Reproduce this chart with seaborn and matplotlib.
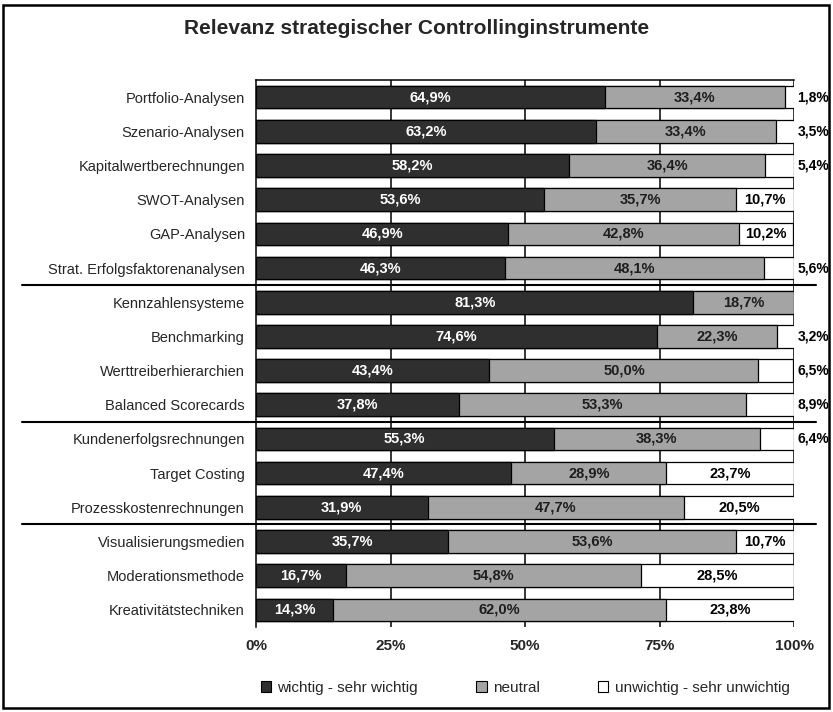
import pandas as pd
import matplotlib.pyplot as plt
import seaborn as sns
from matplotlib.patches import Patch, Rectangle
from matplotlib.transforms import blended_transform_factory

# ------------------------------
# DATA
# ------------------------------
instrumente = [
    "Portfolio-Analysen", "Szenario-Analysen", "Kapitalwertberechnungen",
    "SWOT-Analysen", "GAP-Analysen", "Strat. Erfolgsfaktorenanalysen",
    "Kennzahlensysteme", "Benchmarking", "Werttreiberhierarchien",
    "Balanced Scorecards", "Kundenerfolgsrechnungen", "Target Costing",
    "Prozesskostenrechnungen", "Visualisierungsmedien", "Moderationsmethode",
    "Kreativitätstechniken",
]
wichtig = [64.9, 63.2, 58.2, 53.6, 46.9, 46.3, 81.3, 74.6, 43.4, 37.8,
           55.3, 47.4, 31.9, 35.7, 16.7, 14.3]
neutral = [33.4, 33.4, 36.4, 35.7, 42.8, 48.1, 18.7, 22.3, 50.0, 53.3,
           38.3, 28.9, 47.7, 53.6, 54.8, 62.0]
unwichtig = [1.8, 3.5, 5.4, 10.7, 10.2, 5.6, 0.0, 3.2, 6.5, 8.9,
             6.4, 23.7, 20.5, 10.7, 28.5, 23.8]
gruppen_grenzen = [5.5, 9.5, 12.5]
x_ticks = [0, 25, 50, 75, 100]
x_labels = ["0%", "25%", "50%", "75%", "100%"]
legende = ["wichtig - sehr wichtig", "neutral", "unwichtig - sehr unwichtig"]

DUNKEL = "#2f2f2f"
GRAU = "#a4a4a4"

sns.set_theme(style="white")
plt.rcParams["font.family"] = ["Liberation Sans", "DejaVu Sans"]

df = pd.DataFrame({"Instrument": instrumente, "wichtig": wichtig,
                   "neutral": neutral, "unwichtig": unwichtig})
df["bis_neutral"] = df["wichtig"] + df["neutral"]
df["gesamt"] = df["bis_neutral"] + df["unwichtig"]

# ------------------------------
# PLOT
# ------------------------------
fig = plt.figure(figsize=(8.33, 7.12), dpi=100)
ax = fig.add_axes([256 / 833, 1 - 627 / 712, 538 / 833, 547 / 712])

for v in x_ticks[1:]:
    ax.axvline(v, color="black", lw=1.1, zorder=0)

for spalte, farbe in [("gesamt", "white"), ("bis_neutral", GRAU), ("wichtig", DUNKEL)]:
    sns.barplot(data=df, x=spalte, y="Instrument", order=instrumente, orient="h",
                color=farbe, edgecolor="black", linewidth=0.9, width=0.66,
                saturation=1, errorbar=None, ax=ax, zorder=2)

def fmt(v):
    return f"{v:.1f}%".replace(".", ",")

for i, row in df.iterrows():
    ax.text(row["wichtig"] / 2, i, fmt(row["wichtig"]), ha="center", va="center",
            color="white", fontsize=10.5, fontweight="bold", zorder=5)
    ax.text(row["wichtig"] + row["neutral"] / 2, i, fmt(row["neutral"]), ha="center",
            va="center", color="#1e1e1e", fontsize=10.5, fontweight="bold", zorder=5)
    u = row["unwichtig"]
    if u >= 10:
        ax.text(row["bis_neutral"] + u / 2, i, fmt(u), ha="center", va="center",
                color="black", fontsize=10.5, fontweight="bold", zorder=5)
    elif u > 0:
        # small shares sit right of the bar
        ax.text(100.6, i, fmt(u), ha="left", va="center", color="black",
                fontsize=10, fontweight="bold", zorder=5, clip_on=False)

# group separators
trans = blended_transform_factory(ax.transAxes, ax.transData)
for y in gruppen_grenzen:
    ax.plot([-0.435, 1.04], [y, y], color="black", lw=1.5, transform=trans,
            clip_on=False, zorder=6)

ax.set_xlim(0, 100)
ax.set_ylim(len(instrumente) - 0.5, -0.5)
ax.set_xticks(x_ticks)
ax.set_xticklabels(x_labels, fontsize=11, fontweight="bold")
ax.tick_params(axis="x", length=0, pad=9)
ax.tick_params(axis="y", which="major", length=0, pad=8, labelsize=10.5)
ax.set_yticks([k - 0.5 for k in range(len(instrumente) + 1)], minor=True)
ax.tick_params(axis="y", which="minor", length=4, width=1, color="black", direction="out")
ax.set_xlabel("")
ax.set_ylabel("")

for side in ["left", "top"]:
    ax.spines[side].set_color("black")
    ax.spines[side].set_linewidth(1.1)
ax.spines["right"].set_visible(False)
ax.spines["bottom"].set_visible(False)

fig.text(0.5, 1 - 28 / 712, "Relevanz strategischer Controllinginstrumente",
         ha="center", va="center", fontsize=15, fontweight="bold")

handles = [Patch(facecolor=DUNKEL, edgecolor="black", lw=0.8),
           Patch(facecolor=GRAU, edgecolor="black", lw=0.8),
           Patch(facecolor="white", edgecolor="black", lw=0.8)]
fig.legend(handles, legende, loc="center", bbox_to_anchor=(525 / 833, 1 - 688 / 712),
           ncol=3, frameon=False, fontsize=11, handlelength=0.7, handleheight=0.7,
           handletextpad=0.4, columnspacing=3.8)

fig.patches.append(Rectangle((3 / 833, 4 / 712), 826 / 833, 703 / 712,
                             transform=fig.transFigure, fill=False,
                             edgecolor="black", lw=1.8))

fig.savefig("out.png", dpi=100)
